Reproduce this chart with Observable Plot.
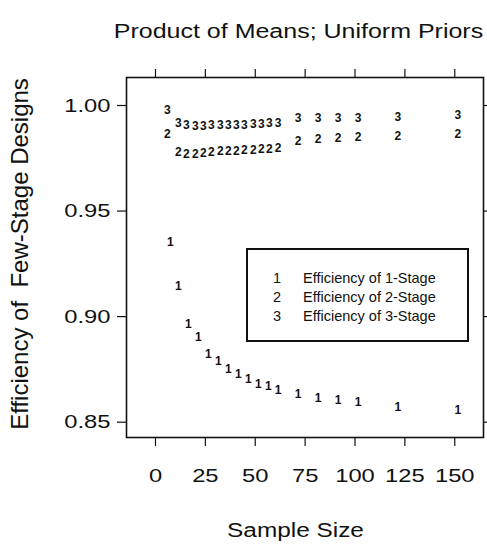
<!DOCTYPE html>
<html><head><meta charset="utf-8">
<script src="https://cdn.jsdelivr.net/npm/d3@7"></script>
<script src="https://cdn.jsdelivr.net/npm/@observablehq/plot@0.6"></script>
<style>
body{margin:0;background:#fff;}
#wrap{position:relative;width:487px;height:545px;overflow:hidden;background:#fff;}
#legend{position:absolute;left:246px;top:248px;width:223px;height:94px;border:2px solid #111;box-sizing:border-box;font-family:'Liberation Sans',Arial,sans-serif;font-size:14.5px;color:#111;}
.row{position:absolute;left:0;height:19px;line-height:19px;white-space:nowrap;}
.key{position:absolute;left:19px;width:20px;text-align:center;}
.lab{position:absolute;left:55px;}
</style></head><body><div id="wrap"></div>
<script>
const title = "Product of Means; Uniform Priors";
const xLabel = "Sample Size";
const yLabel = "Efficiency of  Few-Stage Designs";
const xTicks = [0, 25, 50, 75, 100, 125, 150];
const yTicks = [0.85, 0.90, 0.95, 1.00];

const stage1N = [6, 10, 15, 20, 25, 30, 35, 40, 45, 50, 55, 60, 70, 80, 90, 100, 120, 150];
const stage1Eff = [0.9351, 0.9144, 0.8964, 0.8905, 0.8824, 0.8787, 0.8753, 0.8727, 0.8704, 0.8682, 0.8673, 0.8654, 0.8635, 0.8616, 0.8606, 0.8597, 0.8571, 0.8557];

const stage23N = [4.5, 10, 14, 18.5, 22.5, 26.5, 31, 35, 39, 43, 47.5, 51.5, 55.5, 60, 70, 80, 90, 100, 120, 150];
const stage2Eff = [0.9863, 0.9780, 0.9768, 0.9770, 0.9775, 0.9780, 0.9782, 0.9782, 0.9784, 0.9787, 0.9789, 0.9792, 0.9794, 0.9796, 0.9832, 0.9839, 0.9844, 0.9848, 0.9853, 0.9865];
const stage3Eff = [0.9979, 0.9917, 0.9905, 0.9903, 0.9903, 0.9905, 0.9905, 0.9905, 0.9908, 0.9908, 0.9910, 0.9912, 0.9915, 0.9915, 0.9941, 0.9941, 0.9941, 0.9941, 0.9943, 0.9953];

const legendKeys = ["1", "2", "3"];
const legendLabels = ["Efficiency of 1-Stage", "Efficiency of 2-Stage", "Efficiency of 3-Stage"];

const rows = [
  ...stage1N.map((n, i) => ({n, eff: stage1Eff[i], key: "1"})),
  ...stage23N.map((n, i) => ({n, eff: stage2Eff[i], key: "2"})),
  ...stage23N.map((n, i) => ({n, eff: stage3Eff[i], key: "3"}))
];

const font = "'Liberation Sans', Arial, Helvetica, sans-serif";
const chart = Plot.plot({
  width: 487, height: 545,
  marginLeft: 126, marginRight: 4, marginTop: 77, marginBottom: 108,
  style: {fontFamily: font, fontSize: "19px", color: "#111", background: "#fff"},
  x: {domain: [-14.53, 164.4], label: null},
  y: {domain: [0.84275, 1.01326], label: null},
  marks: [
    Plot.frame({stroke: "#111", strokeWidth: 1.6}),
    Plot.axisX({anchor: "bottom", ticks: xTicks, tickSize: 9, tickPadding: 21.5, strokeWidth: 1.2, label: null}),
    Plot.axisX({anchor: "top", ticks: xTicks, tickSize: 9, tickFormat: () => "", strokeWidth: 1.2, label: null}),
    Plot.axisY({anchor: "left", ticks: yTicks, tickSize: 9, tickPadding: 7, tickFormat: d3.format(".2f"), strokeWidth: 1.2, label: null}),
    Plot.axisY({anchor: "right", ticks: yTicks, tickSize: 9, tickFormat: () => "", strokeWidth: 1.2, label: null}),
    Plot.text(rows, {x: "n", y: "eff", text: "key", dx: 3, fontSize: 12, fontWeight: "bold", fill: "#111"}),
    Plot.text([title], {frameAnchor: "top", text: d => d, dx: -6.5, dy: -40, textAnchor: "middle", lineAnchor: "bottom", fontSize: 20, fill: "#111"}),
    Plot.text([xLabel], {frameAnchor: "bottom", text: d => d, dx: -9.5, dy: 99, textAnchor: "middle", lineAnchor: "bottom", fontSize: 19.5, fill: "#111"}),
    Plot.text([yLabel], {frameAnchor: "left", text: d => d, rotate: -90, dx: 19.8 - 126, dy: 253.5 - 257, textAnchor: "middle", lineAnchor: "middle", fontSize: 24, fill: "#111"})
  ]
});

d3.select(chart).selectAll("text").each(function () {
  const t = this.textContent;
  const g = this.parentNode;
  const lab = (g && g.getAttribute && g.getAttribute("aria-label")) || "";
  if (t === title || t === xLabel || (lab.includes("tick label") && t !== "")) {
    const tr = this.getAttribute("transform") || "";
    this.setAttribute("transform", tr + " scale(1.25,1)");
  }
  if (t === yLabel) this.style.whiteSpace = "pre";
});

const wrap = document.getElementById("wrap");
wrap.appendChild(chart);

const legend = document.createElement("div");
legend.id = "legend";
legendKeys.forEach((k, i) => {
  const row = document.createElement("div");
  row.className = "row";
  row.style.top = (18.5 + i * 19) + "px";
  row.style.width = "100%";
  const key = document.createElement("span");
  key.className = "key";
  key.textContent = k;
  const lab = document.createElement("span");
  lab.className = "lab";
  lab.textContent = legendLabels[i];
  row.appendChild(key);
  row.appendChild(lab);
  legend.appendChild(row);
});
wrap.appendChild(legend);
</script>
</body></html>
